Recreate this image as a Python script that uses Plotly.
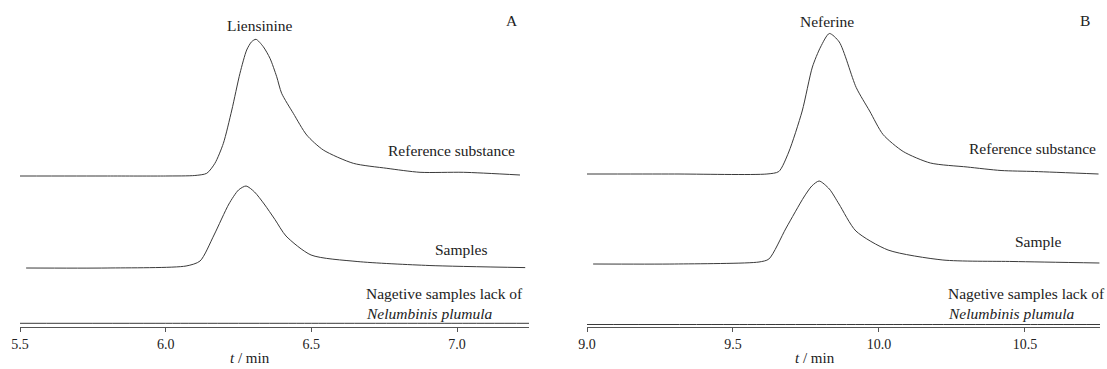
import plotly.graph_objects as go

# ---------------- Panel A : Liensinine ----------------
a_ref_t = [5.50, 5.80, 6.00, 6.10, 6.141, 6.169, 6.198, 6.227, 6.255, 6.278, 6.295, 6.310,
           6.335, 6.358, 6.381, 6.398, 6.438, 6.484, 6.541, 6.644, 6.759, 6.873, 7.022, 7.216]
a_ref_v = [0, 0, 0, 0.5, 2.7, 12.7, 32.7, 66, 102.7, 126, 134.3, 136.7,
           129.3, 117.7, 99.3, 82.7, 62.7, 41, 26, 12.7, 7.7, 3.7, 3.7, 1]

a_smp_t = [5.521, 5.799, 6.070, 6.118, 6.166, 6.217, 6.250, 6.276, 6.305, 6.338, 6.375, 6.413,
           6.499, 6.657, 6.904, 7.234]
a_smp_v = [0, 0, 2, 7, 33, 64, 78, 82, 76, 64, 48.5, 32,
           13, 6.5, 2.5, 0.4]

a_neg_t = [5.50, 6.00, 6.50, 7.00, 7.247]
a_neg_v = [0, 0, 0, 0, 0]

# ---------------- Panel B : Neferine ----------------
b_ref_t = [9.000, 9.300, 9.616, 9.657, 9.691, 9.737, 9.772, 9.800, 9.830, 9.864, 9.922,
           9.968, 10.014, 10.083, 10.176, 10.302, 10.418, 10.533, 10.752]
b_ref_v = [0, 0, 0, 2.5, 22, 63, 107, 127, 140.5, 132, 86.5,
           63, 39.5, 22.5, 11, 7, 3.5, 2.5, 0]

b_smp_t = [9.021, 9.300, 9.589, 9.623, 9.682, 9.743, 9.770, 9.795, 9.830, 9.863, 9.921,
           10.031, 10.219, 10.459, 10.755]
b_smp_v = [0, 0, 2, 5, 36, 67, 78, 83, 75, 60, 33,
           14, 4, 2.5, 1]

b_neg_t = [9.00, 9.50, 10.00, 10.50, 10.757]
b_neg_v = [0, 0, 0, 0, 0]

a_ticks = [5.5, 6.0, 6.5, 7.0]
b_ticks = [9.0, 9.5, 10.0, 10.5]

# vertical stacking offsets (layout only)
A_OFF = {"ref": 151, "smp": 59, "neg": 3.7}
B_OFF = {"ref": 153, "smp": 63, "neg": 2.5}

LINE = dict(color="#3a3a3a", width=1, shape="spline", smoothing=0.7)
FONT = "Liberation Serif"

fig = go.Figure()


def add(t, v, off, xa, ya):
    fig.add_trace(go.Scatter(x=t, y=[val + off for val in v], mode="lines",
                             line=LINE, xaxis=xa, yaxis=ya, showlegend=False,
                             hoverinfo="skip"))


add(a_ref_t, a_ref_v, A_OFF["ref"], "x", "y")
add(a_smp_t, a_smp_v, A_OFF["smp"], "x", "y")
add(a_neg_t, a_neg_v, A_OFF["neg"], "x", "y")
add(b_ref_t, b_ref_v, B_OFF["ref"], "x2", "y2")
add(b_smp_t, b_smp_v, B_OFF["smp"], "x2", "y2")
add(b_neg_t, b_neg_v, B_OFF["neg"], "x2", "y2")

W, H = 1107, 369
PLOT_H = 327
xcommon = dict(showline=True, linecolor="#555555", linewidth=1, ticks="outside",
               ticklen=4, tickcolor="#555555", showgrid=False, zeroline=False,
               automargin=False,
               tickfont=dict(family=FONT, size=14, color="#222222"), tickformat=".1f")

fig.update_layout(
    template="none",
    font=dict(family=FONT, size=14, color="#222222"),
    width=W, height=H,
    margin=dict(l=0, r=0, t=0, b=H - PLOT_H, pad=0),
    paper_bgcolor="white", plot_bgcolor="white",
    xaxis=dict(domain=[20 / W, 529 / W], range=[5.5, 7.247], tickvals=a_ticks,
               anchor="y", **xcommon),
    xaxis2=dict(domain=[587 / W, 1100 / W], range=[9.0, 10.757], tickvals=b_ticks,
                anchor="y2", **xcommon),
    yaxis=dict(domain=[0, 1], range=[0, PLOT_H], visible=False, anchor="x",
               automargin=False),
    yaxis2=dict(domain=[0, 1], range=[0, PLOT_H], visible=False, anchor="x2",
                automargin=False),
)

tf = dict(family=FONT, size=15.5, color="#222222")


def ann(text, x, y, xref, yref, xanchor="center", size=15.5):
    fig.add_annotation(text=text, x=x, y=y, xref=xref, yref=yref, showarrow=False,
                       xanchor=xanchor, yanchor="middle", borderpad=0,
                       font=dict(family=FONT, size=size, color="#222222"))


# Panel A labels
ann("Liensinine", 6.324, 302, "x", "y")
ann("A", 7.189, 307, "x", "y")
ann("Reference substance", 7.203, 177, "x", "y", "right")
ann("Samples", 7.014, 78, "x", "y")
ann("Nagetive samples lack of", 6.684, 34, "x", "y", "left")
ann("<i>Nelumbinis plumula</i>", 6.684, 14, "x", "y", "left")

# Panel B labels
ann("Neferine", 9.822, 306, "x2", "y2")
ann("B", 10.705, 307, "x2", "y2")
ann("Reference substance", 10.747, 179, "x2", "y2", "right")
ann("Sample", 10.548, 86, "x2", "y2")
ann("Nagetive samples lack of", 10.233, 34, "x2", "y2", "left")
ann("<i>Nelumbinis plumula</i>", 10.233, 14, "x2", "y2", "left")

# axis titles (below the plot area, paper-referenced vertically)
title_y = -(358 - PLOT_H) / PLOT_H
ann("<i>t</i> / min", 6.289, title_y, "x", "paper", size=15)
ann("<i>t</i> / min", 9.781, title_y, "x2", "paper", size=15)

fig.write_html("out.html")
